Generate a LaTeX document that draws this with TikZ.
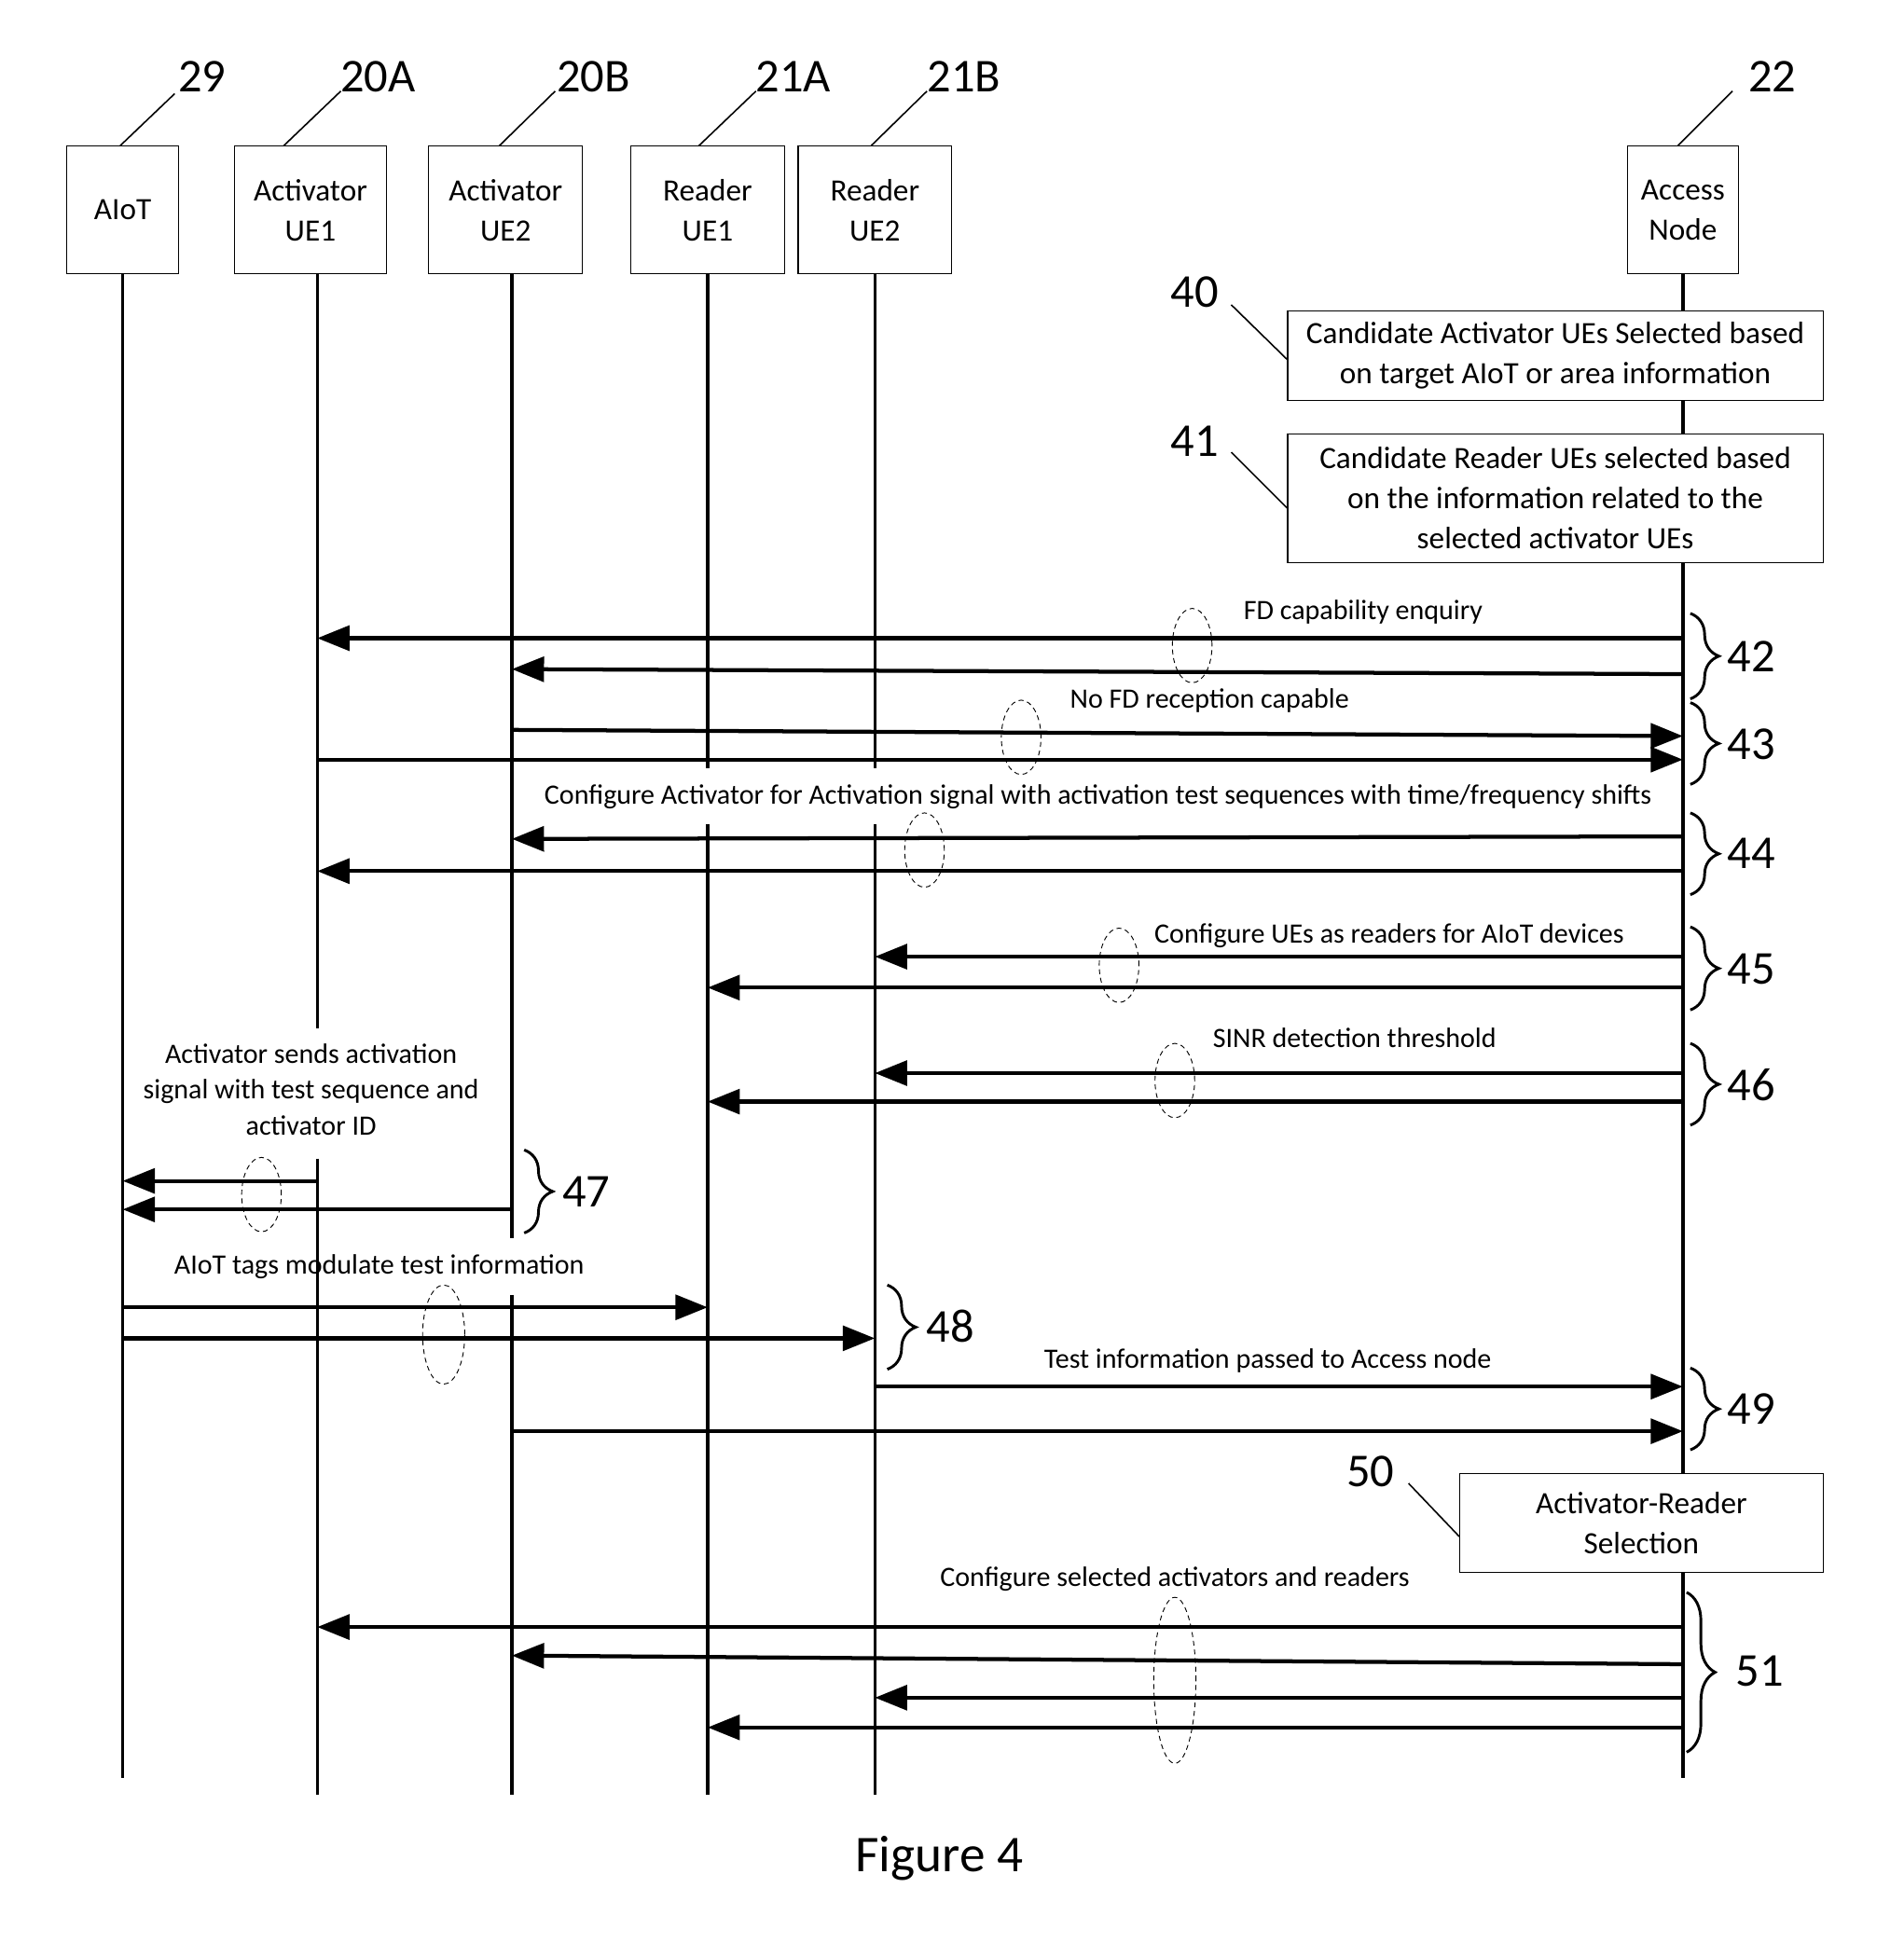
\documentclass[tikz,border=0pt]{standalone}
\usepackage{fontspec}
\setmainfont{Carlito}
\usetikzlibrary{arrows.meta,decorations.pathreplacing}
\newcommand\boxfnt{\fontsize{12.5}{16.2}\selectfont}
\newcommand\msgfnt{\fontsize{11.3}{14.5}\selectfont}
\newcommand\numfnt{\fontsize{19}{22}\selectfont}
\newcommand\figfnt{\fontsize{20.8}{25}\selectfont}
\begin{document}
\begin{tikzpicture}[x=0.5pt,y=-0.5pt,
  hdr/.style={draw,line width=0.45pt,fill=white,align=center,font=\boxfnt,inner sep=0pt},
  life/.style={line width=1.25pt},
  anlife/.style={line width=1.6pt},
  msg/.style={line width=1.6pt,-{Triangle[length=13pt,width=10pt]}},
  lbl/.style={font=\msgfnt,text height=7.1pt,text depth=0pt,inner sep=0pt},
  num/.style={font=\numfnt,text height=12pt,text depth=0pt,inner sep=0pt},
  brc/.style={decorate,decoration={brace,amplitude=11.5pt},line width=1.1pt},
  oval/.style={dash pattern=on 2pt off 1.5pt,line width=0.35pt},
  leader/.style={line width=0.6pt}]

\useasboundingbox (0,0) rectangle (1536,1568);

% ---------- header boxes ----------
\node[hdr,minimum width=45pt,minimum height=51.5pt] (aiot) at (99,169.5) {AIoT};
\node[hdr,minimum width=61.5pt,minimum height=51.5pt] (act1) at (250.5,169.5) {Activator\\UE1};
\node[hdr,minimum width=62pt,minimum height=51.5pt] (act2) at (408,169.5) {Activator\\UE2};
\node[hdr,minimum width=62pt,minimum height=51.5pt] (rd1) at (571,169.5) {Reader\\UE1};
\node[hdr,minimum width=62pt,minimum height=51.5pt] (rd2) at (706,169.5) {Reader\\UE2};
\node[hdr,minimum width=45pt,minimum height=51.5pt] (an) at (1358,169.5) {Access\\Node};

% reference numerals
\node[num] (n29) at (163,62) {29};
\node[num] (n20a) at (305,62) {20A};
\node[num] (n20b) at (479,62) {20B};
\node[num] (n21a) at (640,62) {21A};
\node[num] (n21b) at (778,62) {21B};
\node[num] (n22) at (1430,62) {22};
\draw[leader] ([xshift=-1pt]aiot.north) -- ++(44,-42);
\draw[leader] ([xshift=-10.75pt]act1.north) -- ++(46,-44);
\draw[leader] ([xshift=-2.5pt]act2.north) -- ++(45,-44);
\draw[leader] ([xshift=-3.5pt]rd1.north) -- ++(46,-44);
\draw[leader] ([xshift=-1.5pt]rd2.north) -- ++(45,-44);
\draw[leader] ([xshift=-2pt]an.north) -- ++(44,-44);

% ---------- lifelines ----------
\coordinate (Lai) at (99,221);
\coordinate (L1) at (256,221);
\coordinate (L2) at (413,221);
\coordinate (L3) at (571,221);
\coordinate (L4) at (706,221);
\coordinate (Lan) at (1358,221);
\draw[life] (Lai) -- (Lai |- 0,1435);
\draw[life] (L1) -- (L1 |- 0,830) (L1 |- 0,935) -- (L1 |- 0,1448);
\draw[life] (L2) -- (L2 |- 0,999) (L2 |- 0,1045) -- (L2 |- 0,1448);
\draw[life] (L3) -- (L3 |- 0,620) (L3 |- 0,665) -- (L3 |- 0,1448);
\draw[life] (L4) -- (L4 |- 0,620) (L4 |- 0,665) -- (L4 |- 0,1448);
\draw[anlife] (Lan) -- (Lan |- 0,1435);

% ---------- process boxes ----------
\node[hdr,minimum width=216pt,minimum height=36pt] (b40) at (1255,287)
  {Candidate Activator UEs Selected based\\on target AIoT or area information};
\node[hdr,minimum width=216pt,minimum height=52pt] (b41) at (1255,402)
  {Candidate Reader UEs selected based\\on the information related to the\\selected activator UEs};
\node[hdr,minimum width=146.5pt,minimum height=40pt] (b50) at (1324.5,1229)
  {Activator-Reader\\Selection};
\node[num] (n40) at (964,236) {40};
\node[num] (n41) at (964,356) {41};
\node[num] (n50) at (1106,1188) {50};
\draw[leader] ([yshift=-1.5pt]b40.west) -- ++(-45,-44);
\draw[leader] ([yshift=-4pt]b41.west) -- ++(-45,-45);
\draw[leader] ([yshift=-5.5pt]b50.west) -- ++(-41,-43);

% ---------- 42 ----------
\node[lbl] (t42) at (1100,493) {FD capability enquiry};
\draw[msg] (Lan |- 0,515) -- (L1 |- 0,515);
\draw[msg] (Lan |- 0,544) -- (L2 |- 0,540);
\draw[oval] (962,521) ellipse [x radius=8pt,y radius=15pt];
\draw[brc] (1364,495) -- (1364,564);
\node[num] (n42) at (1413,530) {42};

% ---------- 43 ----------
\node[lbl] (t43) at (976,564) {No FD reception capable};
\draw[msg] (L2 |- 0,589) -- (Lan |- 0,594);
\draw[msg] (L1 |- 0,613) -- (Lan |- 0,613);
\draw[oval] (824,595) ellipse [x radius=8pt,y radius=15pt];
\draw[brc] (1364,567) -- (1364,633);
\node[num] (n43) at (1413,601) {43};

% ---------- 44 ----------
\node[lbl] (t44) at (886,642) {Configure Activator for Activation signal with activation test sequences with time/frequency shifts};
\draw[msg] (Lan |- 0,675) -- (L2 |- 0,677);
\draw[msg] (Lan |- 0,703) -- (L1 |- 0,703);
\draw[oval] (746,686) ellipse [x radius=8pt,y radius=15pt];
\draw[brc] (1364,656) -- (1364,722);
\node[num] (n44) at (1413,689) {44};

% ---------- 45 ----------
\node[lbl] (t45) at (1121,754) {Configure UEs as readers for AIoT devices};
\draw[msg] (Lan |- 0,772) -- (L4 |- 0,772);
\draw[msg] (Lan |- 0,797) -- (L3 |- 0,797);
\draw[oval] (903,779) ellipse [x radius=8pt,y radius=15pt];
\draw[brc] (1364,748) -- (1364,815);
\node[num] (n45) at (1413,782) {45};

% ---------- 46 ----------
\node[lbl] (t46) at (1093,838) {SINR detection threshold};
\draw[msg] (Lan |- 0,866) -- (L4 |- 0,866);
\draw[msg] (Lan |- 0,889) -- (L3 |- 0,889);
\draw[oval] (948,872) ellipse [x radius=8pt,y radius=15pt];
\draw[brc] (1364,842) -- (1364,908);
\node[num] (n46) at (1413,876) {46};

% ---------- 47 ----------
\node[font=\msgfnt,align=center,inner sep=0pt] (t47) at (251,879)
  {Activator sends activation\\signal with test sequence and\\activator ID};
\draw[msg] (L1 |- 0,953) -- (Lai |- 0,953);
\draw[msg] (L2 |- 0,976) -- (Lai |- 0,976);
\draw[oval] (211,964) ellipse [x radius=8pt,y radius=15pt];
\draw[brc] (423,928) -- (423,995);
\node[num] (n47) at (473,962) {47};

% ---------- 48 ----------
\node[lbl] (t48) at (306,1021) {AIoT tags modulate test information};
\draw[msg] (Lai |- 0,1055) -- (L3 |- 0,1055);
\draw[msg] (Lai |- 0,1080) -- (L4 |- 0,1080);
\draw[oval] (358,1077) ellipse [x radius=8.5pt,y radius=20pt];
\draw[brc] (716,1037) -- (716,1105);
\node[num] (n48) at (767,1071) {48};

% ---------- 49 ----------
\node[lbl] (t49) at (1023,1097) {Test information passed to Access node};
\draw[msg] (L4 |- 0,1119) -- (Lan |- 0,1119);
\draw[msg] (L2 |- 0,1155) -- (Lan |- 0,1155);
\draw[brc] (1364,1104) -- (1364,1170);
\node[num] (n49) at (1413,1137) {49};

% ---------- 51 ----------
\node[lbl] (t51) at (948,1273) {Configure selected activators and readers};
\draw[msg] (Lan |- 0,1313) -- (L1 |- 0,1313);
\draw[msg] (Lan |- 0,1343) -- (L2 |- 0,1336);
\draw[msg] (Lan |- 0,1370) -- (L4 |- 0,1370);
\draw[msg] (Lan |- 0,1394) -- (L3 |- 0,1394);
\draw[oval] (948,1356) ellipse [x radius=8.5pt,y radius=33.5pt];
\draw[brc] (1361,1285) -- (1361,1414);
\node[num] (n51) at (1420,1349) {51};

% ---------- caption ----------
\node[font=\figfnt,text height=13.1pt,text depth=0pt,inner sep=0pt] (fig) at (758,1497) {Figure 4};
\end{tikzpicture}
\end{document}
